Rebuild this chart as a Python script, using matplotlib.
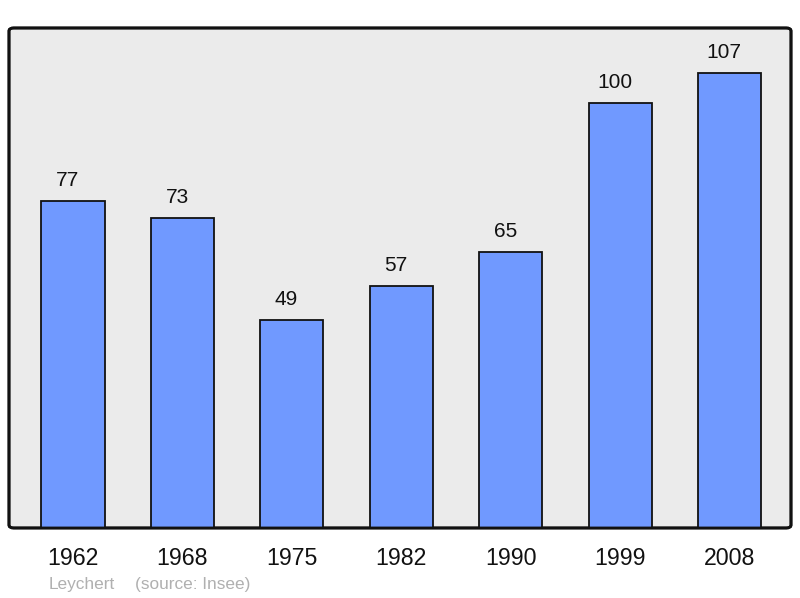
import matplotlib.pyplot as plt
from matplotlib.patches import FancyBboxPatch

plt.rcParams['font.family'] = ['Liberation Sans', 'DejaVu Sans']

years = ['1962', '1968', '1975', '1982', '1990', '1999', '2008']
population = [77, 73, 49, 57, 65, 100, 107]

fig = plt.figure(figsize=(8, 5.98), dpi=100)
ax = fig.add_axes([0.01125, 0.1171, 0.9775, 0.8361])
ax.set_facecolor('none')

x = list(range(len(years)))
bars = ax.bar(x, population, width=0.576, color='#7099ff', edgecolor='#111111',
              linewidth=1.3, zorder=3)

# value labels sit a little left of the bar centre
for xi, v in zip(x, population):
    ax.annotate(str(v), (xi, v), xytext=(-3.8, 8), textcoords='offset points',
                ha='center', va='bottom', fontsize=15, color='#111111')

ax.set_xlim(-0.585, 6.562)
ax.set_ylim(0, 117.7)
ax.set_yticks([])
ax.set_xticks(x)
ax.set_xticklabels(years, fontsize=16.7, color='#111111')
ax.tick_params(axis='x', length=0, pad=14)
for s in ax.spines.values():
    s.set_visible(False)

# rounded frame
frame = FancyBboxPatch((0, 0), 1, 1, boxstyle='round,pad=0,rounding_size=0.006',
                       transform=ax.transAxes, facecolor='#ebebeb',
                       edgecolor='#111111', linewidth=2, zorder=0, clip_on=False)
ax.add_patch(frame)
frame2 = FancyBboxPatch((0, 0), 1, 1, boxstyle='round,pad=0,rounding_size=0.006',
                        transform=ax.transAxes, facecolor='none',
                        edgecolor='#111111', linewidth=2, zorder=5, clip_on=False)
ax.add_patch(frame2)

fig.text(49 / 800, 1 - 584 / 598, 'Leychert', fontsize=12.4,
         color='#b0b0b0', ha='left', va='center')
fig.text(135 / 800, 1 - 584 / 598, '(source: Insee)', fontsize=12.4,
         color='#b0b0b0', ha='left', va='center')

fig.savefig('out.png', dpi=100)
